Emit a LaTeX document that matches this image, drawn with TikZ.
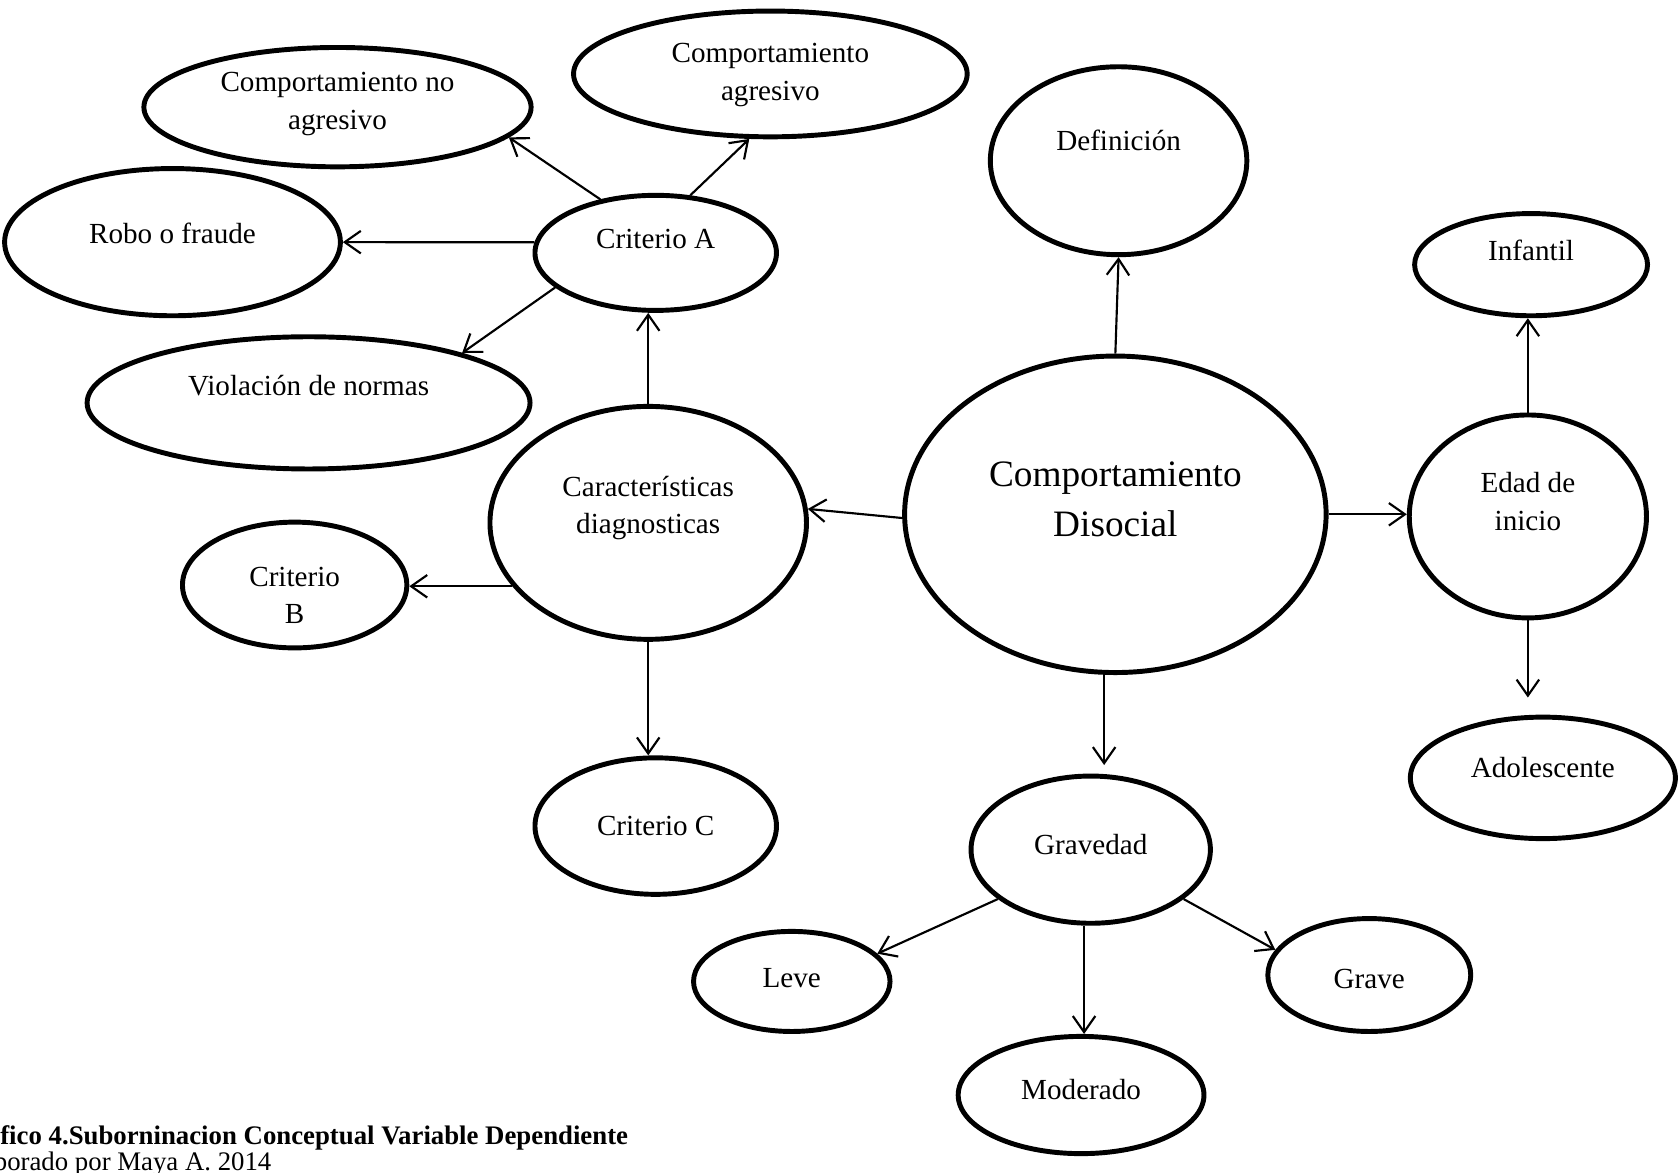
\documentclass[tikz,border=0pt]{standalone}
\usepackage{fontspec}
\setmainfont{Liberation Serif}
\usetikzlibrary{shapes.geometric,arrows.meta}
\begin{document}
\begin{tikzpicture}[x=0.5pt,y=-0.5pt,
      every node/.style={draw, ellipse, line width=2.3pt, inner sep=0pt, align=center,
        font=\fontsize{13.6}{17.5}\selectfont},
      sz/.style 2 args={minimum width={#1pt-2.3pt}, minimum height={#2pt-2.3pt}},
      lift/.style={text depth=#1},
      pie/.style={draw=none, rectangle, anchor=base west, font=\fontsize{12.5}{15}\selectfont},
      arr/.style={line width=1pt, -{Straight Barb[length=7.5pt,width=10.5pt]}}]
      \useasboundingbox (0,0) rectangle (1568,1094);
      % centre
      \node[sz={199}{150}, lift=14pt, font=\fontsize{17.4}{23.5}\selectfont] (cd) at (1041,480) {Comportamiento\\Disocial};
      \node[sz={122}{90}, lift=19pt] (def) at (1044,150) {Definición};
      % criterios
      \node[sz={150}{111}, lift=17pt] (car) at (605,488) {Características\\diagnosticas};
      \node[sz={115}{56}, lift=13pt] (cra) at (612,236) {Criterio A};
      \node[sz={107}{61}, text height=36pt] (crb) at (275,546) {Criterio\\B};
      \node[sz={115}{66}] (crc) at (612,771) {Criterio C};
      \node[sz={183}{58}, lift=6pt] (cna) at (315,100) {Comportamiento no\\agresivo};
      \node[sz={186}{61}, lift=2pt] (cag) at (719,69) {Comportamiento\\agresivo};
      \node[sz={159}{71}, lift=8pt] (robo) at (161,226) {Robo o fraude};
      \node[sz={209}{64}, lift=16pt] (viol) at (288,376) {Violación de normas};
      % edad
      \node[sz={113}{97}, lift=14pt] (edad) at (1426,482) {Edad de\\inicio};
      \node[sz={111}{50}, lift=13pt] (inf) at (1429,247) {Infantil};
      \node[sz={126}{59}, lift=10pt] (adol) at (1440,726) {Adolescente};
      % gravedad
      \node[sz={114}{71}, lift=5pt] (grav) at (1018,793) {Gravedad};
      \node[sz={94}{49}, lift=3pt] (leve) at (739,916) {Leve};
      \node[sz={117}{57}, lift=5pt] (mod) at (1009,1022) {Moderado};
      \node[sz={97}{55}, text height=12.2pt, text depth=0pt] (grave) at (1278,910) {Grave};
      % conectores
      \draw[arr] (cra.136) -- (cna.-10);
      \draw[arr] (cra.59) -- (cag.252);
      \draw[arr] (cra.175) -- (robo.east);
      \draw[arr] (cra.199) -- (viol.18);
      \draw[arr] (car.north) -- (car.north |- cra.south);
      \draw[arr] (cd.181) -- (car.5);
      \draw[arr] (car.205) -- (car.205 -| crb.east);
      \draw[arr] (car.south) -- (car.south |- crc.north);
      \draw[arr] (cd.north) -- (def.south);
      \draw[arr] (cd.east) -- (cd.east -| edad.west);
      \draw[arr] (edad.north) -- (edad.north |- inf.south);
      \draw[arr, shorten >=8pt] (edad.south) -- (edad.south |- adol.north);
      \draw[arr, shorten >=4pt] (cd.266) -- (cd.266 |- grav.north);
      \draw[arr] (grav.208) -- (leve.18);
      \draw[arr] (grav.265) -- (grav.265 |- mod.north);
      \draw[arr] (grav.332) -- (grave.165);
      % pie
      \node[pie, font=\bfseries\fontsize{12.5}{15}\selectfont] (tit) at (-2,1068) {fico 4.Suborninacion Conceptual Variable Dependiente};
      \node[pie] (aut) at (-8,1092) {borado por Maya A. 2014};
\end{tikzpicture}
\end{document}
